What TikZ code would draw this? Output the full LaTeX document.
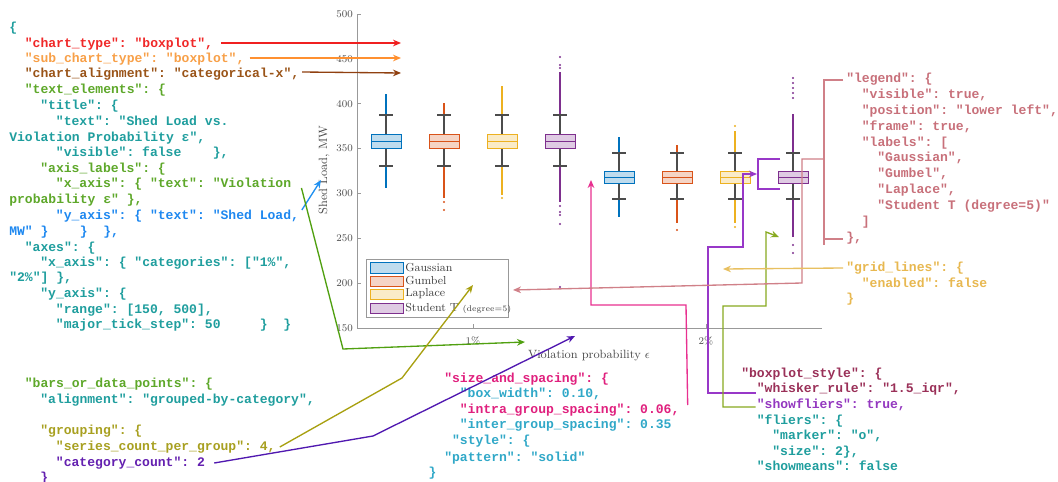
\documentclass[tikz,border=0pt]{standalone}
\usepackage{fontspec}
\newfontfamily\codefont{Liberation Mono}
\usetikzlibrary{arrows.meta,calc}

% text colours of the JSON listing
\definecolor{cteal}{HTML}{1F9E9E}
\definecolor{cred}{HTML}{F02828}
\definecolor{corange}{HTML}{F8A048}
\definecolor{cbrown}{HTML}{9A5418}
\definecolor{cgreen}{HTML}{5EA82A}
\definecolor{cblue}{HTML}{1E88F0}
\definecolor{colive}{HTML}{A8A020}
\definecolor{cpurple}{HTML}{6420B0}
\definecolor{crose}{HTML}{C8707A}
\definecolor{cgold}{HTML}{E8B850}
\definecolor{cmag}{HTML}{E0207E}
\definecolor{ccyan}{HTML}{30A8C8}
\definecolor{cmaroon}{HTML}{9A3058}
\definecolor{cviolet}{HTML}{9438C0}
% connector colours
\definecolor{kred}{HTML}{F02020}
\definecolor{korange}{HTML}{FF9030}
\definecolor{kbrown}{HTML}{904010}
\definecolor{kblue}{HTML}{2090F0}
\definecolor{kgreen}{HTML}{50A010}
\definecolor{kolive}{HTML}{A8A010}
\definecolor{kpurple}{HTML}{5018B0}
\definecolor{kmag}{HTML}{E83090}
\definecolor{kviolet}{HTML}{9838C8}
\definecolor{kygreen}{HTML}{88AA20}
\definecolor{krose}{HTML}{D08088}
\definecolor{kgold}{HTML}{E8C060}
% series colours
\definecolor{sblue}{HTML}{0072BD}
\definecolor{sorange}{HTML}{D95319}
\definecolor{syellow}{HTML}{EDB120}
\definecolor{spurple}{HTML}{7E2F8E}

% one line of the listing: name, x, baseline y, colour, text
\newcommand\cl[5]{\node[code,text=#4] (#1) at (#2,#3) {#5};}
% one box: colour, x, box top, median, box bottom, upper cap, lower cap, upper flier end, lower flier end
\newcommand\bplot[9]{%
  \draw[flier,#1] (#2,#8) -- (#2,#6) (#2,#7) -- (#2,#9);
  \draw[whisk] (#2,#6) -- (#2,#3) (#2,#5) -- (#2,#7)
               (#2-7,#6) -- (#2+7,#6) (#2-7,#7) -- (#2+7,#7);
  \draw[boxe,draw=#1,fill=#1!25] (#2-15,#3) rectangle (#2+15,#5);
  \draw[boxe,draw=#1] (#2-15,#4) -- (#2+15,#4);
}
\newcommand\fdot[3]{\fill[#1] (#2,#3) circle (1.1);}

\begin{document}
\begin{tikzpicture}[x=0.75pt,y=-0.75pt,
  code/.style={anchor=base west, inner sep=0pt, font=\codefont\bfseries\fontsize{9.8}{11}\selectfont\frenchspacing},
  axlab/.style={text=black!70, inner sep=0pt, font=\fontsize{9}{10}\selectfont},
  ticklab/.style={text=black!70, inner sep=0pt, font=\fontsize{7.7}{9}\selectfont},
  lgtxt/.style={text=black!75, anchor=west, inner sep=0pt, font=\fontsize{8.7}{10}\selectfont},
  axisline/.style={draw=black!40, line width=0.6pt},
  whisk/.style={draw=black!70, line width=0.85pt},
  flier/.style={line width=1.5pt},
  boxe/.style={line width=0.7pt},
  conn/.style={line width=1pt, -{Stealth[length=6pt,width=5pt]}},
  plain/.style={line width=1pt}]
\useasboundingbox[fill=white] (0,0) rectangle (1058,482);

% ---------- axes ----------
\draw[axisline] (357,14) -- (357,328) -- (822,328);
\foreach \v in {150,200,...,500}{
  \pgfmathsetmacro\yy{14+(500-\v)*0.8971}
  \draw[axisline] (357,\yy) -- (361,\yy);
  \node[ticklab,anchor=east] (yt\v) at (353,\yy) {\v};
}
\draw[axisline] (473,328) -- (473,324) (706,328) -- (706,324);
\node[ticklab] (xt1) at (473,341) {1\%};
\node[ticklab] (xt2) at (706,341) {2\%};
\node[axlab] (xlab) at (589,356) {Violation probability $\epsilon$};
\node[axlab,rotate=90] (ylab) at (324,170) {Shed Load, MW};

% ---------- boxes, 1% ----------
\bplot{sblue}{386}{134}{141}{148}{115}{166}{94}{188}
\bplot{sorange}{444}{134}{141}{148}{115}{166}{103}{198}
\fdot{sorange}{444}{202}\fdot{sorange}{444}{210}
\bplot{syellow}{502}{134}{141}{148}{115}{166}{86}{195}
\fdot{syellow}{502}{198}
\bplot{spurple}{560}{134}{141}{148}{115}{166}{72}{202}
\fdot{spurple}{560}{57}\fdot{spurple}{560}{65}\fdot{spurple}{560}{68}
\fdot{spurple}{560}{206}\fdot{spurple}{560}{212}\fdot{spurple}{560}{215}
\fdot{spurple}{560}{224}\fdot{spurple}{560}{287}

% ---------- boxes, 2% ----------
\bplot{sblue}{619}{171}{177}{183}{153}{199}{137}{217}
\bplot{sorange}{677}{171}{177}{183}{153}{199}{145}{223}
\fdot{sorange}{677}{230}
\bplot{syellow}{735}{171}{177}{183}{153}{199}{131}{223}
\fdot{syellow}{735}{126}\fdot{syellow}{735}{227}
\bplot{spurple}{793}{171}{177}{183}{153}{199}{114}{237}
\foreach \d in {78,83,88,93,98,245,253}{\fdot{spurple}{793}{\d}}

% ---------- legend ----------
\draw[draw=black!40,fill=white,line width=0.6pt] (366,259) rectangle (508,317);
\draw[boxe,draw=sblue,fill=sblue!25] (370,262) rectangle (403,273);
\draw[boxe,draw=sorange,fill=sorange!25] (370,276) rectangle (403,286);
\draw[boxe,draw=syellow,fill=syellow!25] (370,289) rectangle (403,299);
\draw[boxe,draw=spurple,fill=spurple!25] (370,303) rectangle (403,313);
\node[lgtxt] (lg1) at (405,268) {Gaussian};
\node[lgtxt] (lg2) at (405,281) {Gumbel};
\node[lgtxt] (lg3) at (405,294) {Laplace};
\node[lgtxt] (lg4) at (405,308) {Student T {\fontsize{6.2}{7}\selectfont (degree=5)}};

% ---------- listing, left ----------
\cl{l0}{9}{31}{cteal}{\{}
\cl{l1}{24.6}{47}{cred}{"chart\_type": "boxplot",}
\cl{l2}{24.6}{62}{corange}{"sub\_chart\_type": "boxplot",}
\cl{l3}{24.6}{77}{cbrown}{"chart\_alignment": "categorical-x",}
\cl{l4}{24.6}{93}{cgreen}{"text\_elements": \{}
\cl{l5}{40.1}{109}{cteal}{"title": \{}
\cl{l6}{55.7}{125}{cteal}{"text": "Shed Load vs.}
\cl{l7}{9}{141}{cteal}{Violation Probability ε",}
\cl{l8}{55.7}{156}{cteal}{"visible": false\ \ \ \ \},}
\cl{l9}{40.1}{172}{cgreen}{"axis\_labels": \{}
\cl{l10}{55.7}{187}{cgreen}{"x\_axis": \{ "text": "Violation}
\cl{l11}{9}{203}{cgreen}{probability ε" \},}
\cl{l12}{55.7}{219}{cblue}{"y\_axis": \{ "text": "Shed Load,}
\cl{l13}{9}{235}{cblue}{MW" \}\ \ \ \ \}\ \ \},}
\cl{l14}{24.6}{251}{cteal}{"axes": \{}
\cl{l15}{40.1}{266}{cteal}{"x\_axis": \{ "categories": ["1\%",}
\cl{l16}{9}{281}{cteal}{"2\%"] \},}
\cl{l17}{40.1}{297}{cteal}{"y\_axis": \{}
\cl{l18}{55.7}{313}{cteal}{"range": [150, 500],}
\cl{l19}{55.7}{328}{cteal}{"major\_tick\_step": 50\ \ \ \ \ \}\ \ \}}
\cl{l20}{24.6}{387}{cgreen}{"bars\_or\_data\_points": \{}
\cl{l21}{40.1}{403}{cteal}{"alignment": "grouped-by-category",}
\cl{l22}{40.1}{434}{colive}{"grouping": \{}
\cl{l23}{55.7}{450}{colive}{"series\_count\_per\_group": 4,}
\cl{l24}{55.7}{466}{cpurple}{"category\_count": 2}
\cl{l25}{40.1}{481}{cpurple}{\}}

% ---------- listing, right ----------
\cl{r0}{846}{82}{crose}{"legend": \{}
\cl{r1}{861.6}{98}{crose}{"visible": true,}
\cl{r2}{861.6}{114}{crose}{"position": "lower left",}
\cl{r3}{861.6}{130}{crose}{"frame": true,}
\cl{r4}{861.6}{146}{crose}{"labels": [}
\cl{r5}{877.1}{161.5}{crose}{"Gaussian",}
\cl{r6}{877.1}{177}{crose}{"Gumbel",}
\cl{r7}{877.1}{193}{crose}{"Laplace",}
\cl{r8}{877.1}{209}{crose}{"Student T (degree=5)"}
\cl{r9}{861.6}{225}{crose}{]}
\cl{r10}{846}{241}{crose}{\},}
\cl{g0}{846}{271}{cgold}{"grid\_lines": \{}
\cl{g1}{861.6}{287}{cgold}{"enabled": false}
\cl{g2}{846}{302}{cgold}{\}}

% ---------- listing, bottom middle ----------
\cl{s0}{444}{382}{cmag}{"size\_and\_spacing": \{}
\cl{s1}{459.6}{397}{ccyan}{"box\_width": 0.10,}
\cl{s2}{459.6}{413}{cmag}{"intra\_group\_spacing": 0.06,}
\cl{s3}{459.6}{428}{ccyan}{"inter\_group\_spacing": 0.35}
\cl{s4}{451.8}{444}{ccyan}{"style": \{}
\cl{s5}{444}{461}{ccyan}{"pattern": "solid"}
\cl{s6}{428.4}{476}{ccyan}{\}}

% ---------- listing, bottom right ----------
\cl{b0}{741}{377}{cmaroon}{"boxplot\_style": \{}
\cl{b1}{756.6}{392}{cmaroon}{"whisker\_rule": "1.5\_iqr",}
\cl{b2}{756.6}{408}{cviolet}{"showfliers": true,}
\cl{b3}{756.6}{424}{cteal}{"fliers": \{}
\cl{b4}{772.1}{439}{cteal}{"marker": "o",}
\cl{b5}{772.1}{455}{cteal}{"size": 2\},}
\cl{b6}{756.6}{470}{cteal}{"showmeans": false}

% ---------- connector ends ----------
\coordinate (tipType) at (401,43);
\coordinate (tipSub) at (401,58);
\coordinate (tipAlign) at (401,73);
\coordinate (tipY) at (321,180);
\coordinate (tipX) at (525,342);
\coordinate (tipSeries) at (473,285);
\coordinate (tipCat) at (575,336);
\coordinate (tipIntra) at (591,180);
\coordinate (tipWhisk) at (757,174);
\coordinate (tipFly) at (779,237);
\coordinate (tipLegend) at (513,290);
\coordinate (tipGrid) at (723,269);

% ---------- connectors ----------
\draw[conn,kred] ($(l1.base east)+(8,-4)$) -- (tipType);
\draw[conn,korange] ($(l2.base east)+(5,-4)$) -- (tipSub);
\draw[conn,kbrown] ($(l3.base east)+(2.5,-5)$) -- (tipAlign);
\draw[conn,kblue] ($(l12.base east)+(2.5,-9)$) -- (tipY);
\draw[conn,kgreen] ($(l10.base east)+(10,1)$) -- (343,349) -- (tipX);
\draw[conn,kolive] ($(l23.base east)+(4,-3)$) -- (402,378) -- (tipSeries);
\draw[conn,kpurple] ($(l24.base east)+(9,-3)$) -- (373,436) -- (tipCat);
\draw[conn,kmag] ($(s2.base east)+(8,-8)$) -- (686,305) -- (591,305) -- (tipIntra);
\draw[conn,kviolet] ($(b1.base west)+(-1,1)$) -- (708,393) -- (708,247) -- (743,247) -- (743,174) -- (tipWhisk);
\draw[plain,kviolet] (780,159) -- (758,159) -- (758,189) -- (780,189);
\draw[conn,kygreen] ($(b2.base west)+(-1,-1)$) -- (723,407) -- (723,306) -- (766,306) -- (766,232) -- (tipFly);
\draw[plain,krose] ($(r0.base west)+(-3,-2)$) -- (824,80) -- (824,245);
\draw[plain,krose] (824,239) -- ($(r10.base west)+(-3,-2)$);
\draw[conn,krose] (824,159) -- (802,159) -- (802,283) -- (tipLegend);
\draw[conn,kgold] ($(g0.base west)+(-3,-3)$) -- (tipGrid);
\end{tikzpicture}
\end{document}
